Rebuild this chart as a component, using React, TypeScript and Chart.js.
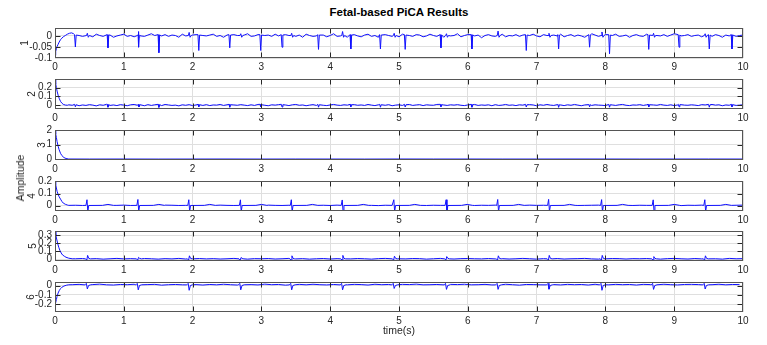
import React, { useEffect, useRef } from 'react';
import { Chart, registerables } from 'chart.js';

Chart.register(...registerables);

// ---------------- data ----------------
const xTickValues = [0, 1, 2, 3, 4, 5, 6, 7, 8, 9, 10];
const xTickLabels = ['0', '1', '2', '3', '4', '5', '6', '7', '8', '9', '10'];

const panelNames = ['1', '2', '3', '4', '5', '6'];
const yMins = [-0.1, -0.04, -0.07, -0.044, -0.025, -0.285];
const yMaxs = [0.036, 0.295, 2.03, 0.206, 0.35, 0.04];
const yTickValues = [
  [-0.1, -0.05, 0],
  [0, 0.1, 0.2],
  [0, 1, 2],
  [0, 0.1, 0.2],
  [0, 0.1, 0.2, 0.3],
  [-0.2, -0.1, 0],
];
const yTickLabels = [
  ['-0.1', '-0.05', '0'],
  ['0', '0.1', '0.2'],
  ['0', '1', '2'],
  ['0', '0.1', '0.2'],
  ['0', '0.1', '0.2', '0.3'],
  ['-0.2', '-0.1', '0'],
];

// beat times (seconds)
const fetalTimes = [0.296, 0.77, 1.22, 1.51, 2.09, 2.54, 2.99, 3.3, 3.83, 4.3, 4.73, 5.09, 5.61, 6.06, 6.85, 7.32, 7.77, 8.06, 8.63, 9.07, 9.51, 9.84];
const maternalTimes = [0.47, 1.21, 1.95, 2.7, 3.44, 4.18, 4.93, 5.69, 6.44, 7.18, 7.95, 8.7, 9.45];

// channel 1
const ch1Start = [[0, -0.088], [0.01, -0.07], [0.02, -0.058], [0.03, -0.048], [0.045, -0.038], [0.06, -0.028], [0.08, -0.017], [0.1, -0.01], [0.12, -0.004], [0.15, 0.002], [0.18, 0.008], [0.21, 0.012], [0.24, 0.014], [0.27, 0.01]];
const ch1FetalDepth = [-0.05, -0.054, -0.051, -0.076, -0.066, -0.054, -0.066, -0.051, -0.061, -0.059, -0.059, -0.061, -0.054, -0.059, -0.066, -0.059, -0.051, -0.081, -0.061, -0.051, -0.059, -0.059];
const ch1MaternalAmp = [0.012, 0.02, 0.016, 0.01, 0.012, 0.02, 0.012, 0.01, 0.022, 0.012, 0.018, 0.012, 0.01];
const ch1Noise = [
  3, 1, -1, 2, 0, -2, 4, 1, -1, 3, 2, -3, 0, 2, 4, -1, 1, -2, 3, 0,
  -1, 2, 5, 1, -2, 0, 3, -1, 2, 1, -3, 4, 0, -1, 2, 3, -2, 1, 0, 2,
  4, -1, 1, -3, 2, 0, 3, 1, -2, 2, 5, -1, 0, 3, -2, 1, 2, -1, 4, 0,
  -2, 3, 1, 0, -1, 2, -3, 4, 1, -1, 0, 3, 2, -2, 1, 5, -1, 0, 2, -3,
  1, 3, 0, -2, 2, 4, -1, 1, -3, 0, 3, 1, -1, 2, -2, 4, 0, 1, -1, 3,
  2, -2, 0, 4, 1, -1, 3, -3, 2, 0, 1, 5, -2, 1, 3, -1, 0, 2, -4, 1,
  3, 0, -1, 2, 4, -2, 1, 0, 3, -1, 2, -3, 1, 4, 0, -2, 3, 1, -1, 2,
  0, 4, -2, 1, 3, -1, 2, 0, -3, 1, 5, 2, -1, 0, 3, -2, 1, 4, -1, 0,
  2, -3, 1, 3, 0, -1, 4, 2, -2, 1, 0, 3, -1, 2, 5, -2, 0, 1, 3, -1,
  1, 2, -2, 4, 0, -1, 3, 1, -3, 2, 0, 4, -1, 1, 2, -2, 3, 0, 1, -1,
];

// channel 2
const ch2Start = [[0, 0.29], [0.01, 0.24], [0.02, 0.2], [0.03, 0.16], [0.045, 0.115], [0.06, 0.08], [0.08, 0.045], [0.1, 0.025], [0.12, 0.012], [0.15, 0.004], [0.18, 0.002]];
const ch2FetalAmp = [-0.015, -0.02, -0.018, -0.022, -0.016, -0.02, -0.015, -0.018, -0.02, -0.016, -0.02, -0.018, -0.015, -0.02, -0.018, -0.022, -0.016, -0.02, -0.018, -0.015, -0.02, -0.016];
const ch2Noise = [
  4, 1, 6, -2, 3, 0, 5, 2, -3, 4, 1, 7, 0, 3, -1, 5, 2, -2, 4, 6,
  1, 3, -2, 5, 0, 4, 2, -1, 6, 3, 0, 2, -3, 4, 1, 5, -1, 3, 2, 0,
  5, -1, 3, 2, 6, 0, 4, -2, 3, 1, 5, 2, -1, 4, 0, 6, 3, 1, -2, 4,
  2, 5, 0, 3, -1, 4, 6, 1, 3, -2, 2, 5, 0, 4, 1, -1, 3, 6, 2, 0,
  4, 2, -2, 5, 1, 3, 0, 6, 2, -1, 4, 3, 1, 5, -2, 2, 4, 0, 3, 6,
  0, 3, 5, -1, 4, 2, 1, 6, -2, 3, 0, 4, 2, 5, 1, -1, 3, 2, 6, 0,
  3, 1, 4, -2, 5, 0, 2, 6, 1, 3, -1, 4, 2, 0, 5, 3, -2, 4, 1, 6,
  2, 0, 5, 3, -1, 4, 1, 6, 2, -2, 3, 5, 0, 4, 2, 1, -1, 5, 3, 0,
  4, 6, 1, -1, 3, 2, 5, 0, 4, -2, 3, 1, 6, 2, 0, 4, -1, 3, 5, 2,
  1, 4, 2, -1, 5, 3, 0, 6, 2, 4, -2, 3, 1, 5, 0, 2, 4, -1, 3, 1,
];

// channel 3
const ch3Start = [[0, 2.0], [0.01, 1.75], [0.02, 1.5], [0.03, 1.22], [0.045, 0.9], [0.06, 0.65], [0.08, 0.4], [0.1, 0.24], [0.13, 0.1], [0.16, 0.035], [0.2, 0.0]];
const ch3Noise = [-4, -2, -5, -3, -1, -4, -2, -3, -5, -1, -3, -2, -4, -3, -1, -2, -4, -3, -2, -3];

// channel 4
const ch4Start = [[0, 0.205], [0.01, 0.175], [0.02, 0.148], [0.03, 0.12], [0.045, 0.095], [0.06, 0.075], [0.08, 0.055], [0.1, 0.036], [0.12, 0.022], [0.15, 0.012], [0.18, 0.006]];
const ch4Up = [0.05, 0.052, 0.05, 0.049, 0.05, 0.048, 0.05, 0.05, 0.052, 0.053, 0.051, 0.049, 0.05];
const ch4Noise = [
  3, 4, 2, 5, 3, 2, 4, 3, 5, 2, 3, 4, 1, 3, 5, 4, 2, 3, 4, 3,
  2, 4, 5, 3, 2, 4, 3, 1, 4, 5, 3, 2, 4, 3, 5, 2, 3, 4, 2, 5,
  3, 2, 4, 5, 3, 1, 4, 3, 2, 5, 4, 3, 2, 4, 3, 5, 1, 3, 4, 2,
  4, 3, 5, 2, 3, 4, 2, 5, 3, 4, 1, 3, 5, 4, 2, 3, 4, 5, 3, 2,
  3, 5, 2, 4, 3, 2, 5, 4, 3, 1, 4, 3, 5, 2, 4, 3, 2, 4, 5, 3,
];

// channel 5
const ch5Start = [[0, 0.35], [0.012, 0.3], [0.024, 0.25], [0.04, 0.19], [0.055, 0.145], [0.07, 0.11], [0.09, 0.075], [0.11, 0.05], [0.135, 0.035], [0.16, 0.022], [0.2, 0.01], [0.25, 0.003]];
const ch5Peak = [0.045, 0.02, 0.04, 0.018, 0.04, 0.045, 0.035, 0.03, 0.04, 0.045, 0.045, 0.03, 0.04];
const ch5Noise = [
  2, 4, 0, 3, -1, 2, 5, 1, 3, 0, 4, 2, -1, 3, 1, 5, 0, 2, 4, 1,
  3, 0, 2, 5, 1, -1, 3, 2, 4, 0, 2, 5, 1, 3, -1, 2, 4, 0, 3, 2,
  1, 4, 2, -1, 3, 5, 0, 2, 1, 4, 3, -1, 2, 5, 1, 0, 3, 4, 2, 1,
  4, 1, 3, 0, 2, 5, 2, -1, 3, 1, 4, 0, 2, 3, 5, 1, -1, 2, 4, 3,
  0, 3, 2, 4, 1, -1, 3, 5, 2, 0, 4, 1, 3, 2, -1, 5, 2, 3, 1, 4,
];

// channel 6
const ch6Start = [[0, -0.285], [0.005, -0.23], [0.01, -0.19], [0.02, -0.15], [0.03, -0.115], [0.045, -0.08], [0.06, -0.055], [0.08, -0.032], [0.1, -0.017], [0.13, -0.004], [0.17, 0.006], [0.2, 0.01]];
const ch6Dip = [-0.035, -0.045, -0.05, -0.045, -0.045, -0.045, -0.03, -0.04, -0.04, -0.038, -0.05, -0.04, -0.036];
const ch6Noise = [
  9, 12, 7, 10, 14, 8, 6, 11, 9, 13, 7, 10, 12, 5, 9, 11, 8, 13, 10, 6,
  11, 8, 13, 9, 6, 12, 10, 7, 14, 9, 11, 5, 10, 12, 8, 13, 9, 7, 11, 10,
  8, 12, 10, 6, 13, 9, 11, 7, 12, 10, 14, 8, 9, 11, 6, 12, 10, 13, 8, 9,
  12, 7, 10, 13, 9, 5, 11, 10, 8, 14, 10, 7, 12, 9, 11, 6, 13, 10, 8, 12,
  9, 11, 6, 12, 10, 8, 13, 9, 7, 11, 12, 10, 5, 9, 13, 8, 11, 10, 12, 9,
];

// noise units (value per listed step)
const ch1Unit = 0.002;
const ch2Unit = 0.0018;
const ch3Unit = 0.001;
const ch4Unit = 0.001;
const ch5Unit = 0.0015;
const ch6Unit = 0.0012;

// ---------------- series assembly ----------------
type Pt = { x: number; y: number };
type Group = { times: number[]; amps: number[]; shape: (a: number) => number[][] };

function buildSeries(start: number[][], t0: number, dt: number, noise: number[], unit: number, groups: Group[]): Pt[] {
  const beats: Pt[][] = [];
  groups.forEach((g) =>
    g.times.forEach((t, i) => {
      beats.push(g.shape(g.amps[i]).map(([d, v]) => ({ x: t + d, y: v })));
    })
  );
  const windows = beats.map((b) => [b[0].x - 0.008, b[b.length - 1].x + 0.008]);
  const pts: Pt[] = start.map(([x, y]) => ({ x, y }));
  noise.forEach((n, i) => {
    const x = +(t0 + i * dt).toFixed(4);
    if (x > 10) return;
    if (windows.some(([a, b]) => x >= a && x <= b)) return;
    pts.push({ x, y: n * unit });
  });
  beats.forEach((b) => pts.push(...b));
  pts.sort((p, q) => p.x - q.x);
  return pts;
}

const fetalSpike1 = (a: number) => [[-0.012, 0.006], [0, a], [0.012, 0.004]];
const maternalResidual1 = (a: number) => [[-0.012, 0.002], [0, a], [0.014, -0.006], [0.03, 0.002]];
const fetalSpike2 = (a: number) => [[-0.01, 0.012], [0, a], [0.012, 0.008]];
const maternalQRS4 = (a: number) => [[-0.02, 0.003], [-0.005, a], [0.007, -0.05], [0.02, 0.002], [0.22, 0.003], [0.3, 0.011], [0.38, 0.003]];
const maternalQRS5 = (a: number) => [[-0.025, 0.002], [-0.008, -0.014], [0.004, a], [0.02, 0.008], [0.045, 0.002]];
const maternalQRS6 = (a: number) => [[-0.035, 0.009], [-0.014, 0.025], [0, a], [0.018, 0.002], [0.05, 0.01]];

const series: Pt[][] = [
  buildSeries(ch1Start, 0.3, 0.05, ch1Noise, ch1Unit, [
    { times: fetalTimes, amps: ch1FetalDepth, shape: fetalSpike1 },
    { times: maternalTimes, amps: ch1MaternalAmp, shape: maternalResidual1 },
  ]),
  buildSeries(ch2Start, 0.2, 0.05, ch2Noise, ch2Unit, [{ times: fetalTimes, amps: ch2FetalAmp, shape: fetalSpike2 }]),
  buildSeries(ch3Start, 0.5, 0.5, ch3Noise, ch3Unit, []),
  buildSeries(ch4Start, 0.2, 0.1, ch4Noise, ch4Unit, [{ times: maternalTimes, amps: ch4Up, shape: maternalQRS4 }]),
  buildSeries(ch5Start, 0.3, 0.1, ch5Noise, ch5Unit, [{ times: maternalTimes, amps: ch5Peak, shape: maternalQRS5 }]),
  buildSeries(ch6Start, 0.25, 0.1, ch6Noise, ch6Unit, [{ times: maternalTimes, amps: ch6Dip, shape: maternalQRS6 }]),
];

// ---------------- layout ----------------
const FONT = '"Liberation Sans", Arial, Helvetica, sans-serif';
const PANEL_TOPS = [27, 78, 129, 180, 230, 281];
const BOX_H = 31;
const PAD_TOP = 8;
const XAXIS_H = 20;
const CANVAS_H = PAD_TOP + BOX_H + XAXIS_H;
const AXIS_W = 55;
const PAD_RIGHT = 24;
const TITLE_CX = [25, 32, 42, 32, 33, 31];
const TICK_FONT_SIZE = 10;
const TEXT_COLOR = '#262626';
const GRID_COLOR = '#dfdfdf';
const BOX_COLOR = '#555555';
const TICK_LEN = 5;

const boxPlugin = {
  id: 'matlabBox',
  afterDraw(chart: any) {
    const { ctx, chartArea } = chart;
    const { left, right, top, bottom } = chartArea;
    const xs = chart.scales.x;
    const ys = chart.scales.y;
    const L = Math.round(left) + 0.5;
    const R = Math.round(right) - 0.5;
    const T = Math.round(top) + 0.5;
    const B = Math.round(bottom) - 0.5;
    ctx.save();
    ctx.lineWidth = 1;
    ctx.strokeStyle = '#262626';
    ctx.beginPath();
    xs.ticks.forEach((tk: any) => {
      const px = Math.round(xs.getPixelForValue(tk.value)) + 0.5;
      if (px <= L + 1 || px >= R - 1) return;
      ctx.moveTo(px, T);
      ctx.lineTo(px, T + TICK_LEN);
      ctx.moveTo(px, B);
      ctx.lineTo(px, B - TICK_LEN);
    });
    ys.ticks.forEach((tk: any) => {
      const py = Math.round(ys.getPixelForValue(tk.value)) + 0.5;
      if (py <= T + 1 || py >= B - 1) return;
      ctx.moveTo(L, py);
      ctx.lineTo(L + TICK_LEN, py);
      ctx.moveTo(R, py);
      ctx.lineTo(R - TICK_LEN, py);
    });
    ctx.stroke();
    ctx.strokeStyle = BOX_COLOR;
    ctx.strokeRect(L, T, R - L, B - T);
    ctx.restore();
  },
};

function Panel({ index }: { index: number }) {
  const ref = useRef<HTMLCanvasElement | null>(null);
  useEffect(() => {
    if (!ref.current) return;
    const tickFont = { family: FONT, size: TICK_FONT_SIZE };
    const yVals = yTickValues[index];
    const yLabs = yTickLabels[index];
    const chart = new Chart(ref.current, {
      type: 'line',
      data: {
        datasets: [
          {
            data: series[index],
            borderColor: '#1010ff',
            borderWidth: 1,
            pointRadius: 0,
            fill: false,
            tension: 0,
            clip: 0,
          } as any,
        ],
      },
      options: {
        animation: false,
        responsive: false,
        events: [],
        layout: { padding: { top: PAD_TOP, left: 0, right: PAD_RIGHT, bottom: 0 } },
        plugins: { legend: { display: false }, tooltip: { enabled: false }, title: { display: false } },
        scales: {
          x: {
            type: 'linear',
            min: 0,
            max: 10,
            afterBuildTicks: (axis: any) => {
              axis.ticks = xTickValues.map((v) => ({ value: v }));
            },
            afterFit: (axis: any) => {
              axis.height = XAXIS_H;
            },
            grid: { color: GRID_COLOR, drawTicks: false, lineWidth: 1 },
            border: { display: false },
            ticks: {
              padding: 3,
              color: TEXT_COLOR,
              font: tickFont,
              maxRotation: 0,
              autoSkip: false,
              callback: (_v: any, i: number) => xTickLabels[i],
            },
          },
          y: {
            type: 'linear',
            min: yMins[index],
            max: yMaxs[index],
            afterBuildTicks: (axis: any) => {
              axis.ticks = yVals.map((v) => ({ value: v }));
            },
            afterFit: (axis: any) => {
              axis.width = AXIS_W;
            },
            grid: { color: GRID_COLOR, drawTicks: false, lineWidth: 1 },
            border: { display: false },
            ticks: {
              padding: 3,
              color: TEXT_COLOR,
              font: tickFont,
              autoSkip: false,
              callback: (_v: any, i: number) => yLabs[i],
            },
            title: {
              display: true,
              text: panelNames[index],
              color: TEXT_COLOR,
              font: { family: FONT, size: TICK_FONT_SIZE },
              padding: { top: TITLE_CX[index] - TICK_FONT_SIZE * 0.6, bottom: 0 },
            },
          },
        },
      } as any,
      plugins: [boxPlugin],
    });
    return () => chart.destroy();
  }, [index]);
  return (
    <canvas
      ref={ref}
      width={767}
      height={CANVAS_H}
      style={{ position: 'absolute', left: 0, top: PANEL_TOPS[index] - PAD_TOP, width: 767, height: CANVAS_H }}
    />
  );
}

export default function App() {
  return (
    <div style={{ position: 'relative', width: 767, height: 345, background: '#ffffff', overflow: 'hidden', fontFamily: FONT }}>
      <style>{'body{margin:0;}'}</style>
      {panelNames.map((_, i) => (
        <Panel key={i} index={i} />
      ))}
      <div
        style={{
          position: 'absolute',
          left: 199,
          width: 400,
          top: 5,
          lineHeight: '14px',
          textAlign: 'center',
          fontWeight: 'bold',
          fontSize: 11.5,
          color: '#000',
        }}
      >
        Fetal-based PiCA Results
      </div>
      <div
        style={{
          position: 'absolute',
          left: 20,
          top: 178,
          transform: 'translate(-50%, -50%) rotate(-90deg)',
          whiteSpace: 'nowrap',
          fontSize: 10.5,
          lineHeight: '12px',
          color: TEXT_COLOR,
        }}
      >
        Amplitude
      </div>
      <div
        style={{
          position: 'absolute',
          left: 199,
          width: 400,
          top: 323,
          lineHeight: '14px',
          textAlign: 'center',
          fontSize: 10.5,
          color: TEXT_COLOR,
        }}
      >
        time(s)
      </div>
    </div>
  );
}
